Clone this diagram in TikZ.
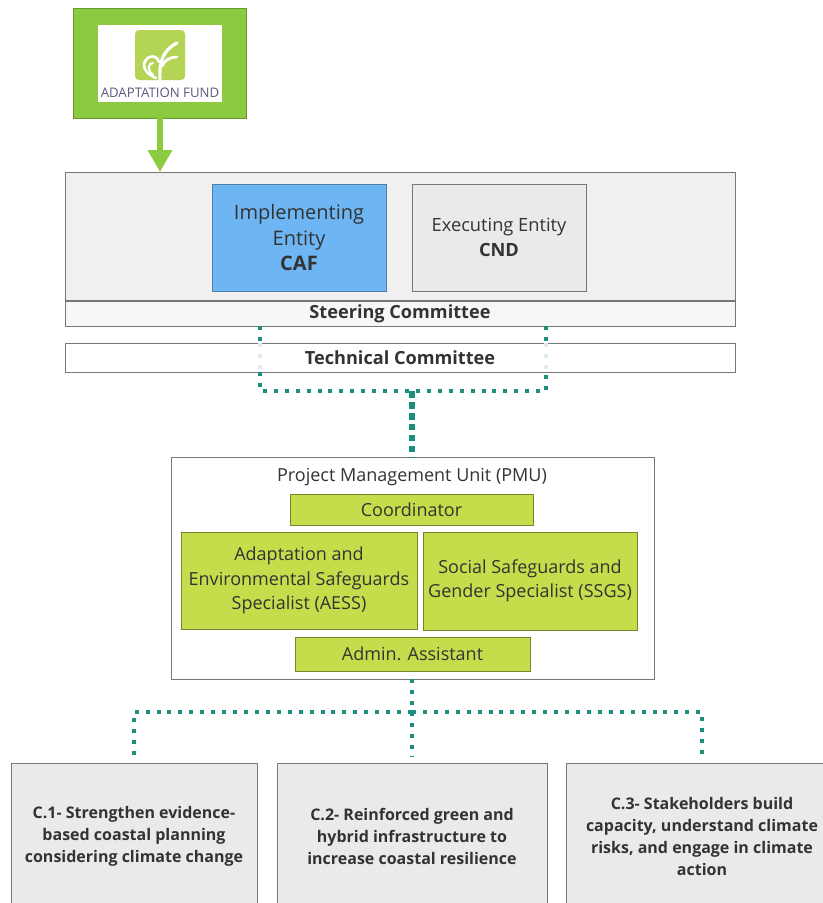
\documentclass[tikz,border=0pt]{standalone}
\usepackage{fontspec}
\setmainfont{Open Sans}
\usetikzlibrary{arrows.meta,calc}
\definecolor{afgreen}{HTML}{8CCB3F}
\definecolor{lime}{HTML}{C6DC4B}
\definecolor{ieblue}{HTML}{6EB6F3}
\definecolor{panel}{HTML}{F0F0F0}
\definecolor{cgray}{HTML}{EAEAEA}
\definecolor{edge}{HTML}{777777}
\definecolor{ink}{HTML}{333333}
\definecolor{dots}{HTML}{1B8F7C}
\definecolor{palegreen}{HTML}{B4D455}
\definecolor{purplegray}{HTML}{5E5A80}
\newcommand{\bx}[7]{%
  \pgfmathsetmacro{\bw}{(#4-#2)*0.75}%
  \pgfmathsetmacro{\bh}{(#5-#3)*0.75}%
  \node[#6,minimum width=\bw pt,minimum height=\bh pt] (#1) at ({(#2+#4)/2},{(#3+#5)/2}) {#7};}
\tikzset{
  base/.style={rectangle,draw=edge,line width=0.7pt,inner sep=0pt,outer sep=0pt,align=center,text=ink},
  whitebox/.style={base,fill=white},
  limebox/.style={base,fill=lime,draw=lime!60!black,font=\fontsize{13.5}{18.4}\selectfont},
  compbox/.style={base,fill=cgray,font=\fontsize{12}{16.5}\selectfont\bfseries},
  dotline/.style={draw=dots,line width=3.6pt,dash pattern=on 3pt off 5.2pt},
  paledots/.style={draw=dots!15,line width=3pt,dash pattern=on 3pt off 5.2pt},
  stemline/.style={draw=dots,line width=4pt,dash pattern=on 5pt off 3.2pt},
}
\begin{document}
\begin{tikzpicture}[x=0.75pt,y=-0.75pt]
\useasboundingbox (0,0) rectangle (823,903);
% Adaptation Fund block
\bx{af}{73}{8}{246}{118}{base,fill=afgreen,draw=afgreen!75!black}{}
\bx{afw}{98}{25}{222}{102}{rectangle,fill=white,inner sep=0pt}{}
\bx{afs}{135}{30}{185}{80}{rectangle,fill=palegreen,rounded corners=3pt,inner sep=0pt}{}
\draw[white,line width=2.4pt,line cap=round] (160,79) .. controls (159,62) and (163,50) .. (177,43);
\draw[white,line width=2pt,line cap=round] (162,66) .. controls (165,60) and (170,57) .. (177,57);
\draw[white,line width=2pt,line cap=round] (156,78) .. controls (146,74) and (141,66) .. (146,60) .. controls (150,54) and (158,56) .. (159,62);
\draw[white,line width=1.6pt,line cap=round] (153,75) .. controls (147,70) and (148,63) .. (153,63);
\node[text=purplegray,font=\fontsize{9.9}{11}\selectfont,inner sep=0pt] (aft) at (160,93) {ADAPTATION FUND};
% Upper panel
\bx{panelbox}{65}{172}{735}{300}{base,fill=panel}{}
\bx{ie}{212}{184}{386}{291}{base,fill=ieblue,draw=ieblue!70!black,font=\fontsize{15}{19}\selectfont}{Implementing\\Entity\\\textbf{CAF}}
\bx{ee}{412}{184}{586}{291}{base,fill=cgray,font=\fontsize{13.7}{19}\selectfont}{Executing Entity\\\textbf{CND}}
\bx{steer}{65}{301}{735}{326}{whitebox,fill=white!97!black,font=\fontsize{13.6}{15}\selectfont\bfseries}{Steering Committee}
\bx{tech}{65}{343}{735}{372}{whitebox,font=\fontsize{13.6}{15}\selectfont\bfseries}{Technical Committee}
\coordinate (ax) at (160,0);
\draw[-{Triangle[length=16.5pt,width=17.5pt]},afgreen,line width=4.5pt] (af.south -| ax) -- (panelbox.north -| ax);
% PMU
\bx{pmu}{171}{457}{654}{679}{whitebox}{}
\node[text=ink,font=\fontsize{13.5}{15}\selectfont,inner sep=0pt] (pmut) at (412,477) {Project Management Unit (PMU)};
\bx{coord}{290}{494}{533}{525}{limebox}{Coordinator}
\bx{aess}{181}{532}{417}{629}{limebox}{Adaptation and\\Environmental Safeguards\\Specialist (AESS)}
\bx{ssgs}{423}{532}{637}{630}{limebox}{Social Safeguards and\\Gender Specialist (SSGS)}
\bx{admin}{295}{637}{530}{671}{limebox}{Admin. Assistant}
% Components
\bx{c1}{11}{763}{257}{909}{compbox}{C.1- Strengthen evidence-\\based coastal planning\\considering climate change}
\bx{c2}{277}{763}{547}{909}{compbox}{C.2- Reinforced green and\\hybrid infrastructure to\\increase coastal resilience}
\bx{c3}{566}{763}{838}{909}{compbox}{C.3- Stakeholders build\\capacity, understand climate\\risks, and engage in climate\\action}
% Upper dotted connector
\coordinate (jt) at (412,391);
\coordinate (jl) at (260,391);
\coordinate (jr) at (546,391);
\coordinate (jla) at (260,345);
\coordinate (jra) at (546,345);
\coordinate (jlb) at (260,343);
\coordinate (jrb) at (546,343);
\draw[paledots] (jlb) -- (tech.south -| jlb);
\draw[paledots] (jrb) -- (tech.south -| jrb);
\draw[dotline] (steer.south -| jl) -- (jla);
\draw[dotline] (steer.south -| jr) -- (jra);
\draw[dotline] (tech.south -| jl) -- (jl) -- (jr) -- (tech.south -| jr);
\draw[stemline] (jt) -- (pmu.north -| jt);
% Lower dotted connector
\coordinate (kt) at (412,712);
\coordinate (kl) at (134,712);
\coordinate (kr) at (702,712);
\draw[dotline] (pmu.south -| kt) -- (kt);
\draw[dotline] (kt) -- (kl) -- ($(kl |- c1.north)+(0,-6)$);
\draw[dotline] (kt) -- (kr) -- ($(kr |- c3.north)+(0,-6)$);
\draw[dotline] (kt) -- ($(kt |- c2.north)+(0,-6)$);
\end{tikzpicture}
\end{document}
